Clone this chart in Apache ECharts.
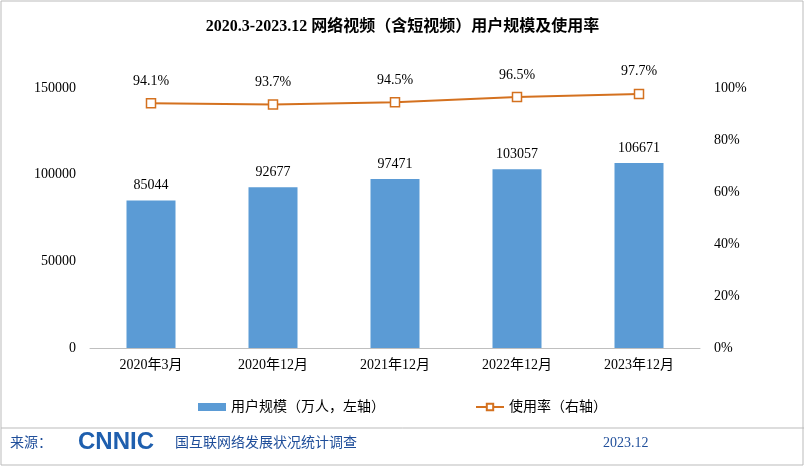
<!DOCTYPE html>
<html><head><meta charset="utf-8">
<script src="https://cdn.jsdelivr.net/npm/echarts@6/dist/echarts.min.js"></script>
<style>html,body{margin:0;padding:0;background:#fff}#c{width:805px;height:467px}</style>
</head><body><div id="c"></div>
<script>
const categories=['2020年3月','2020年12月','2021年12月','2022年12月','2023年12月'];
const users=[85044,92677,97471,103057,106671];
const rate=[94.1,93.7,94.5,96.5,97.7];
const F='"Liberation Serif","Noto Sans CJK SC",serif';
const c=echarts.init(document.getElementById('c'));
c.setOption({
 animation:false,
 textStyle:{fontFamily:F},
 title:{text:'2020.3-2023.12 网络视频（含短视频）用户规模及使用率',left:'center',top:14,textStyle:{fontSize:16,fontWeight:'bold',color:'#000',fontFamily:F}},
 grid:{left:90,right:105,top:88,bottom:119},
 legend:{bottom:48,itemGap:90,textStyle:{fontSize:14,color:'#000',fontFamily:F},
  data:[{name:'用户规模（万人，左轴）',icon:'rect'},{name:'使用率（右轴）'}],itemWidth:28,itemHeight:8},
 xAxis:{type:'category',data:categories,axisTick:{show:false},axisLine:{lineStyle:{color:'#bfbfbf'}},
  axisLabel:{color:'#000',fontSize:14,margin:10}},
 yAxis:[{type:'value',min:0,max:150000,interval:50000,splitLine:{show:false},axisLine:{show:false},axisTick:{show:false},axisLabel:{color:'#000',fontSize:14,margin:14,formatter:v=>String(v)}},
  {type:'value',min:0,max:100,interval:20,splitLine:{show:false},axisLine:{show:false},axisTick:{show:false},axisLabel:{color:'#000',fontSize:14,formatter:'{value}%',margin:14}}],
 series:[
  {name:'用户规模（万人，左轴）',type:'bar',data:users,barWidth:49,itemStyle:{color:'#5b9bd5'},
   label:{show:true,position:'top',color:'#000',fontSize:14,distance:8}},
  {name:'使用率（右轴）',type:'line',yAxisIndex:1,data:rate,symbol:'rect',symbolSize:9,
   lineStyle:{color:'#d4711f',width:2},itemStyle:{color:'#fff',borderColor:'#d4711f',borderWidth:1.5},
   label:{show:true,position:'top',distance:10,color:'#000',fontSize:14,formatter:p=>p.value.toFixed(1)+'%'}}
 ],
 graphic:[
  {type:'rect',shape:{x:1,y:1,width:802,height:464},style:{fill:'none',stroke:'#bbbbbb',lineWidth:1}},
  {type:'line',shape:{x1:1,y1:428,x2:804,y2:428},style:{stroke:'#bbbbbb',lineWidth:1}},
  {type:'text',left:10,top:436,style:{text:'来源：',fill:'#1f4e9a',fontSize:14,fontFamily:F}},
  {type:'text',left:78,top:430,style:{text:'CNNIC',fill:'#1f5fae',fontSize:24,fontWeight:'bold',fontFamily:'"Liberation Sans",sans-serif'}},
  {type:'text',left:175,top:436,style:{text:'国互联网络发展状况统计调查',fill:'#1f4e9a',fontSize:14,fontFamily:F}},
  {type:'text',left:603,top:436,style:{text:'2023.12',fill:'#1f4e9a',fontSize:14,fontFamily:F}}
 ]
});
</script></body></html>
